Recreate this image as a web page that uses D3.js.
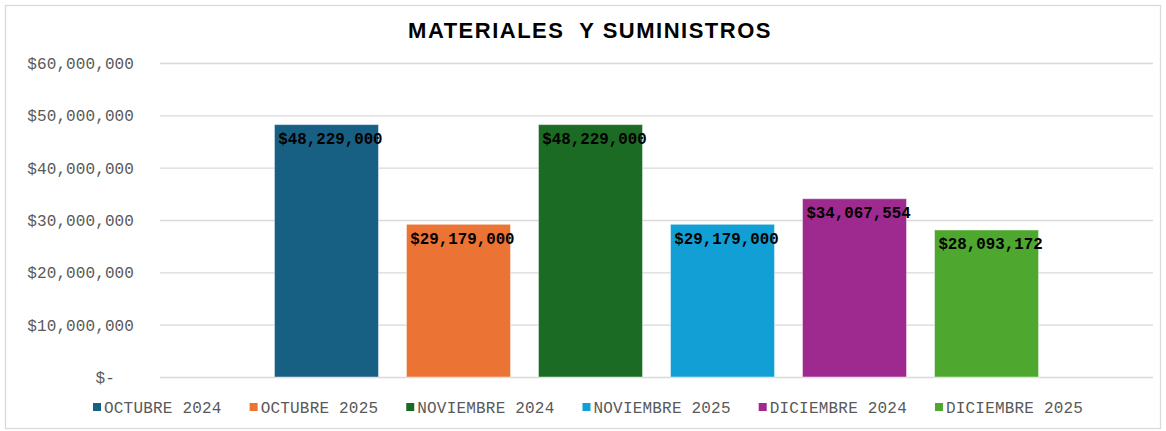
<!DOCTYPE html>
<html>
<head>
<meta charset="utf-8">
<script src="https://cdn.jsdelivr.net/npm/d3@7"></script>
<style>
  body { margin: 0; background: #fff; }
  .tick text { font-family: 'Liberation Mono', 'Courier New', monospace; fill: #595959; }
</style>
</head>
<body>
<div id="chart"></div>
<script>
var series = ["OCTUBRE 2024", "OCTUBRE 2025", "NOVIEMBRE 2024", "NOVIEMBRE 2025", "DICIEMBRE 2024", "DICIEMBRE 2025"];
var values = [48229000, 29179000, 48229000, 29179000, 34067554, 28093172];
var colors = ["#175f83", "#eb7333", "#1b6b24", "#129fd5", "#9e2a8f", "#4ea72e"];
var yTicks = [0, 10000000, 20000000, 30000000, 40000000, 50000000, 60000000];

const width = 1166, height = 431;
var margin = {top: 63, right: 13, bottom: 54, left: 160};

const svg = d3.select("#chart").append("svg")
    .attr("width", width)
    .attr("height", height);

// chart border
svg.append("rect")
    .attr("x", 5.5).attr("y", 5.5)
    .attr("width", 1155).attr("height", 423)
    .attr("fill", "#fff")
    .attr("stroke", "#d9d9d9")
    .attr("stroke-width", 1.3);

svg.append("text")
    .attr("x", 590)
    .attr("y", 38)
    .attr("text-anchor", "middle")
    .style("font-family", "Arial, 'Liberation Sans', sans-serif")
    .style("font-weight", "bold")
    .style("font-size", "22px")
    .style("letter-spacing", "1.5px")
    .style("white-space", "pre")
    .attr("fill", "#000")
    .text("MATERIALES  Y SUMINISTROS");

var x = d3.scaleBand()
    .domain(series)
    .range([margin.left, width - margin.right])
    .paddingInner(0.212)
    .paddingOuter(0.867);

var y = d3.scaleLinear()
    .domain([0, 60000000])
    .range([height - margin.bottom, margin.top]);

var yAxis = d3.axisLeft(y)
    .tickValues(yTicks)
    .tickSize(-(width - margin.left - margin.right))
    .tickPadding(26)
    .tickFormat(function(d) { return d === 0 ? "$-" : "$" + d3.format(",")(d); });

var gy = svg.append("g")
    .attr("transform", "translate(" + margin.left + ",0)")
    .call(yAxis);
gy.select(".domain").remove();
gy.selectAll(".tick line").attr("stroke", "#d9d9d9").attr("stroke-width", 1.3);
gy.selectAll(".tick text")
    .style("font-size", "16px")
    .style("letter-spacing", "0.1px")
    .attr("dy", "0.35em")
    .attr("dx", function(d) { return d === 0 ? -19 : 0; });

// bars
svg.append("g").selectAll("rect")
    .data(values)
    .enter()
    .append("rect")
    .attr("x", function(d, i) { return x(series[i]); })
    .attr("y", function(d) { return y(d); })
    .attr("width", x.bandwidth())
    .attr("height", function(d) { return y(0) - y(d); })
    .attr("fill", function(d, i) { return colors[i]; })
    .attr("stroke", "rgba(255,255,255,0.45)")
    .attr("stroke-width", 1);

// data labels
svg.append("g").selectAll("text")
    .data(values)
    .enter()
    .append("text")
    .attr("x", function(d, i) { return x(series[i]) + x.bandwidth() / 2 + 4; })
    .attr("y", function(d) { return y(d) + 19.5; })
    .attr("text-anchor", "middle")
    .style("font-family", "'Liberation Mono', 'Courier New', monospace")
    .style("font-weight", "bold")
    .style("font-size", "15.8px")
    .attr("fill", "#000")
    .text(function(d) { return "$" + d3.format(",")(d); });

// legend
var legend = svg.append("g").attr("transform", "translate(93,407)");
var lx = 0;
series.forEach(function(s, i) {
  var g = legend.append("g").attr("transform", "translate(" + lx + ",0)");
  g.append("rect")
      .attr("x", 0).attr("y", -4)
      .attr("width", 8).attr("height", 8)
      .attr("fill", colors[i]);
  var t = g.append("text")
      .attr("x", 11)
      .attr("y", 0)
      .attr("dy", "0.35em")
      .style("font-family", "'Liberation Mono', 'Courier New', monospace")
      .style("font-size", "16px")
      .style("letter-spacing", "0.2px")
      .attr("fill", "#595959")
      .text(s);
  lx += 11 + t.node().getComputedTextLength() + 28;
});
</script>
</body>
</html>
